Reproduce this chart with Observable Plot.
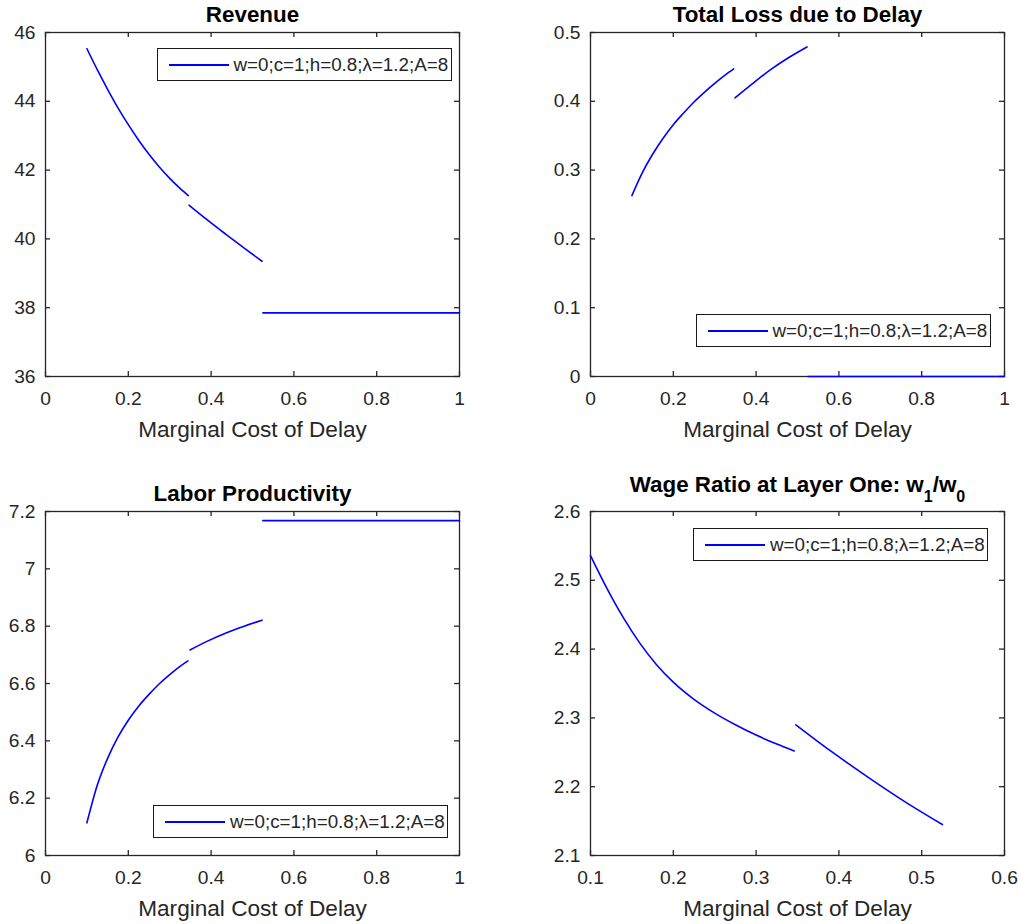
<!DOCTYPE html>
<html><head><meta charset="utf-8">
<script src="https://cdn.jsdelivr.net/npm/d3@7"></script>
<script src="https://cdn.jsdelivr.net/npm/@observablehq/plot@0.6"></script>
<style>
body{margin:0;background:#fff;overflow:hidden}
#root{position:relative;width:1021px;height:924px;font-family:"Liberation Sans",Arial,sans-serif;background:#fff}
.panel{position:absolute}
.legend{position:absolute;box-sizing:border-box;width:295px;height:33px;border:1.6px solid #1a1a1a;background:#fff;display:flex;align-items:center;font-size:18.8px;color:#262626;white-space:nowrap}
.legend .ln{width:60px;height:0;border-top:2px solid #0000ff;margin-left:11px;margin-right:5px}
</style></head>
<body><div id="root"></div>
<script>
// ---- Data ----
const legendText = "w=0;c=1;h=0.8;λ=1.2;A=8";
const xLabel = "Marginal Cost of Delay";

const unitTicks = [0, 0.2, 0.4, 0.6, 0.8, 1];
const wageXTicks = [0.1, 0.2, 0.3, 0.4, 0.5, 0.6];

// Revenue
const revenueTicks = [36, 38, 40, 42, 44, 46];
const revenueX   = [0.1, 0.125, 0.15, 0.175, 0.2, 0.225, 0.25, 0.275, 0.3, 0.325, 0.345,  0.347, 0.39, 0.435, 0.48, 0.523,  0.525, 1];
const revenueY   = [45.53, 44.92, 44.35, 43.81, 43.32, 42.87, 42.46, 42.09, 41.76, 41.47, 41.26,  40.98, 40.56, 40.14, 39.73, 39.35,  37.85, 37.85];
const revenueSeg = [1,1,1,1,1,1,1,1,1,1,1, 2,2,2,2,2, 3,3];

// Total loss due to delay
const lossTicks = [0, 0.1, 0.2, 0.3, 0.4, 0.5];
const lossX   = [0.1, 0.125, 0.15, 0.175, 0.2, 0.225, 0.25, 0.275, 0.3, 0.325, 0.346,  0.349, 0.39, 0.435, 0.48, 0.523,  0.525, 1];
const lossY   = [0.263, 0.296, 0.323, 0.346, 0.366, 0.383, 0.399, 0.413, 0.426, 0.438, 0.447,  0.405, 0.425, 0.446, 0.464, 0.479,  0, 0];
const lossSeg = [1,1,1,1,1,1,1,1,1,1,1, 2,2,2,2,2, 3,3];

// Labor productivity
const laborTicks = [6, 6.2, 6.4, 6.6, 6.8, 7, 7.2];
const laborX   = [0.1, 0.125, 0.15, 0.175, 0.2, 0.225, 0.25, 0.275, 0.3, 0.325, 0.344,  0.349, 0.39, 0.439, 0.48, 0.523,  0.525, 1];
const laborY   = [6.114, 6.245, 6.339, 6.413, 6.472, 6.521, 6.562, 6.599, 6.631, 6.660, 6.679,  6.717, 6.747, 6.778, 6.800, 6.821,  7.168, 7.168];
const laborSeg = [1,1,1,1,1,1,1,1,1,1,1, 2,2,2,2,2, 3,3];

// Wage ratio at layer one
const wageTicks = [2.1, 2.2, 2.3, 2.4, 2.5, 2.6];
const wageX   = [0.1, 0.12, 0.14, 0.16, 0.18, 0.2, 0.225, 0.25, 0.275, 0.3, 0.325, 0.346,  0.348, 0.39, 0.435, 0.48, 0.525];
const wageY   = [2.536, 2.488, 2.445, 2.408, 2.377, 2.352, 2.327, 2.307, 2.290, 2.275, 2.262, 2.252,  2.290, 2.252, 2.214, 2.178, 2.145];
const wageSeg = [1,1,1,1,1,1,1,1,1,1,1,1, 2,2,2,2,2];

// ---- Drawing ----
const FONT = '"Liberation Sans", Arial, sans-serif';
const root = document.getElementById("root");

function panel(o) {
  const mT = 32, mL = 45, frameW = 414, frameH = 344;
  const mR = o.width - mL - frameW, mB = o.height - mT - frameH;
  const data = o.x.map((v, i) => ({x: v, y: o.y[i], s: o.seg[i]}));
  const svg = Plot.plot({
    width: o.width, height: o.height,
    marginTop: mT, marginLeft: mL, marginRight: mR, marginBottom: mB,
    style: {fontFamily: FONT, fontSize: "19.2px", color: "#262626", background: "transparent", overflow: "visible"},
    x: {domain: o.xDomain, ticks: o.xTicks, tickFormat: d => String(d), tickSize: 0, tickPadding: 15, label: null},
    y: {domain: o.yDomain, ticks: o.yTicks, tickFormat: d => String(d), tickSize: 0, tickPadding: 10, label: null},
    marks: [
      Plot.frame({stroke: "#262626", strokeWidth: 1.3}),
      Plot.tickX(o.xTicks, {x: d => d, insetTop: frameH - 5, stroke: "#262626", strokeWidth: 1.3}),
      Plot.tickX(o.xTicks, {x: d => d, insetBottom: frameH - 5, stroke: "#262626", strokeWidth: 1.3}),
      Plot.tickY(o.yTicks, {y: d => d, insetRight: frameW - 5, stroke: "#262626", strokeWidth: 1.3}),
      Plot.tickY(o.yTicks, {y: d => d, insetLeft: frameW - 5, stroke: "#262626", strokeWidth: 1.3}),
      Plot.line(data, {x: "x", y: "y", z: "s", stroke: "#0000ff", strokeWidth: 1.6, curve: "monotone-x"}),
      Plot.text([o.title], {text: d => d, frameAnchor: "top", dy: o.titleDy, lineAnchor: "bottom", fontWeight: "bold", fontSize: 22.4, fill: "#000"}),
      Plot.text([xLabel], {text: d => d, frameAnchor: "bottom", dy: 60, lineAnchor: "bottom", fontSize: 22.6, fill: "#262626"})
    ]
  });
  const div = document.createElement("div");
  div.className = "panel";
  div.style.left = o.left + "px";
  div.style.top = o.top + "px";
  div.appendChild(svg);
  root.appendChild(div);
  if (o.subscripts) {
    d3.select(svg).selectAll("text").filter(function() { return this.textContent === o.title; })
      .each(function() {
        const t = d3.select(this);
        t.text(null);
        o.subscripts.forEach(([s, sub]) => {
          const ts = t.append("tspan").text(s);
          if (sub) ts.attr("dy", sub > 0 ? 10 : -10).attr("font-size", sub > 0 ? 16 : 22.4);
        });
      });
  }
}

function legend(left, top) {
  const d = document.createElement("div");
  d.className = "legend";
  d.style.left = left + "px";
  d.style.top = top + "px";
  d.innerHTML = '<div class="ln"></div><span></span>';
  d.querySelector("span").textContent = legendText;
  root.appendChild(d);
}

panel({left: 0, top: 0, width: 500, height: 479, xDomain: [0, 1], xTicks: unitTicks,
  yDomain: [36, 46], yTicks: revenueTicks, x: revenueX, y: revenueY, seg: revenueSeg,
  title: "Revenue", titleDy: -10.5});
panel({left: 545, top: 0, width: 476, height: 479, xDomain: [0, 1], xTicks: unitTicks,
  yDomain: [0, 0.5], yTicks: lossTicks, x: lossX, y: lossY, seg: lossSeg,
  title: "Total Loss due to Delay", titleDy: -10.5});
panel({left: 0, top: 479, width: 500, height: 445, xDomain: [0, 1], xTicks: unitTicks,
  yDomain: [6, 7.2], yTicks: laborTicks, x: laborX, y: laborY, seg: laborSeg,
  title: "Labor Productivity", titleDy: -11});
panel({left: 545, top: 479, width: 476, height: 445, xDomain: [0.1, 0.6], xTicks: wageXTicks,
  yDomain: [2.1, 2.6], yTicks: wageTicks, x: wageX, y: wageY, seg: wageSeg,
  title: "Wage Ratio at Layer One: w1/w0", titleDy: -20,
  subscripts: [["Wage Ratio at Layer One: w", 0], ["1", 1], ["/w", -1], ["0", 1]]});

legend(156.5, 48);
legend(695.5, 314);
legend(153, 805);
legend(693, 528);
</script>
</body></html>
